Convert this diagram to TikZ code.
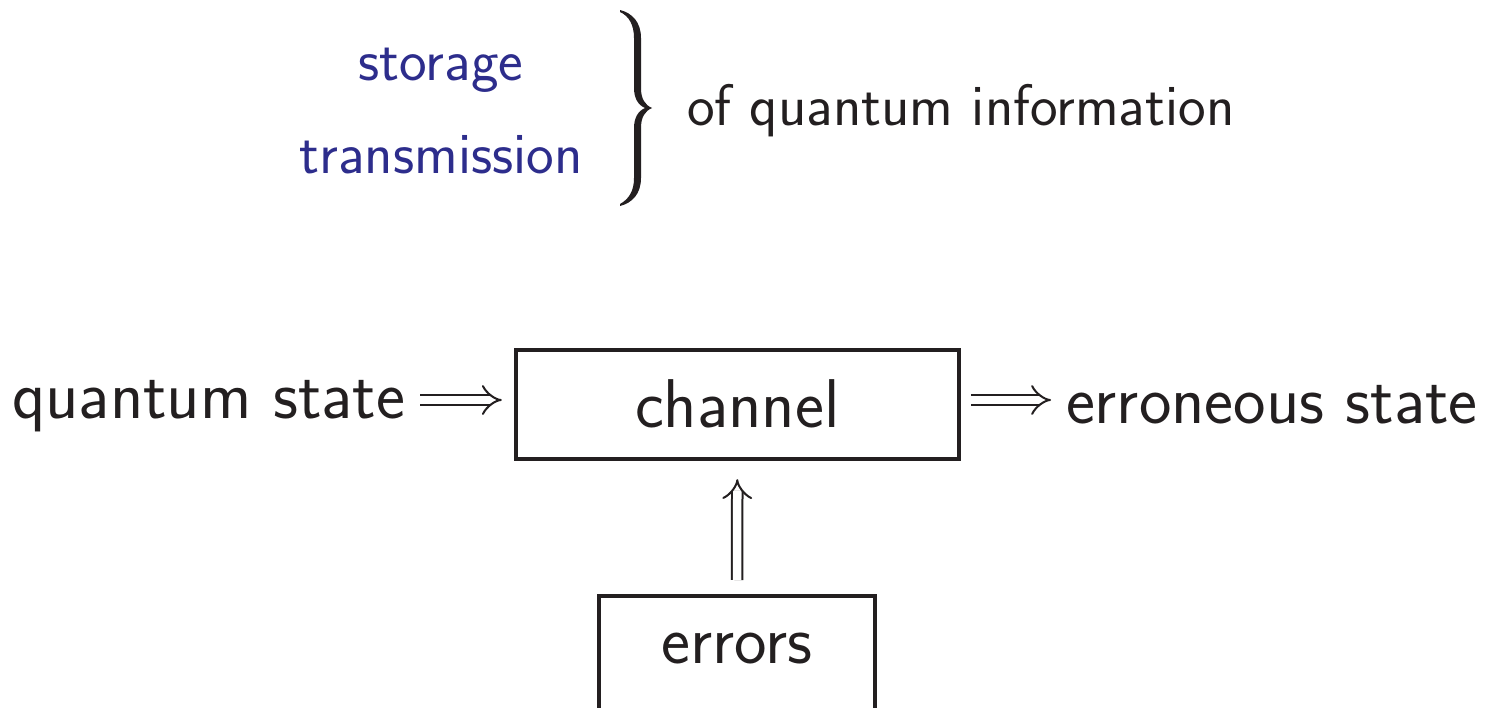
\documentclass[tikz,border=0pt]{standalone}
\usetikzlibrary{arrows.meta}
\definecolor{ink}{RGB}{35,31,32}
\definecolor{struct}{RGB}{45,45,140}
\begin{document}
\begin{tikzpicture}[x=1pt,y=1pt,
  every node/.style={inner sep=0pt, outer sep=0pt, text=ink},
  big/.style={font=\sffamily\fontsize{69}{82}\selectfont},
  small/.style={font=\sffamily\fontsize{58.7}{70}\selectfont},
  boxed/.style={draw=ink, line width=4pt, big},
  dbl/.style={draw=ink, double, double distance=8.5pt, line width=2pt, -{Implies}},
]
\useasboundingbox (0,0) rectangle (1486,-707);
\clip (0,0) rectangle (1486,-707);

% upper part: what the channel stands for
\node[small, text=struct, anchor=base] (storage) at (441,-80) {storage};
\node[small, text=struct, anchor=base] (transmission) at (441,-173) {transmission};
\fill[ink] (620,-10) .. controls (632,-13) and (641,-22) .. (641,-38)
  -- (641,-88) .. controls (641,-99) and (645,-105) .. (652,-108)
  .. controls (645,-111) and (641,-117) .. (641,-128)
  -- (641,-178) .. controls (641,-194) and (632,-203) .. (620,-206)
  -- (620,-204) .. controls (629,-199) and (634,-191) .. (634,-178)
  -- (634,-128) .. controls (634,-118) and (638,-111) .. (645,-108)
  .. controls (638,-105) and (634,-98) .. (634,-88)
  -- (634,-38) .. controls (634,-25) and (629,-16) .. (620,-12) -- cycle;
\node[small, anchor=base west] (info) at (687,-125) {of quantum information};

% lower part: the channel diagram
\node[boxed, minimum width=443pt, minimum height=109.5pt, text height=47pt, text depth=0pt] (ch) at (737.3,-404.4) {channel};
\node[boxed, minimum width=275.4pt, minimum height=114pt, text height=31pt, text depth=11pt] (err) at (737,-653) {errors};
\node[big, anchor=base east] (qs) at (405,-418) {quantum state};
\node[big, anchor=base west] (es) at (1066,-423) {erroneous state};

\draw[dbl] ([xshift=15pt]qs.east |- 0,-400) -- ([xshift=-14pt]ch.west |- 0,-400);
\draw[dbl] ([xshift=12pt]ch.east |- 0,-400) -- ([xshift=-15pt]es.west |- 0,-400);
\draw[dbl] ([yshift=16pt]err.north) -- ([yshift=-20pt]ch.south);
\end{tikzpicture}
\end{document}
